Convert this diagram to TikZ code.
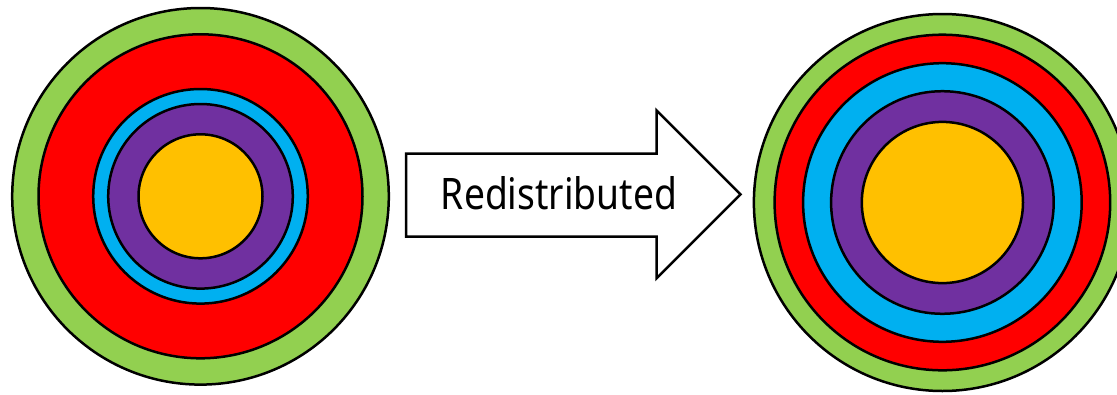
\documentclass[tikz,border=0pt]{standalone}
\usepackage{fontspec}
\setmainfont{Noto Sans}
\definecolor{ringgreen}{HTML}{92D050}
\definecolor{ringred}{HTML}{FF0000}
\definecolor{ringblue}{HTML}{00B0F0}
\definecolor{ringpurple}{HTML}{7030A0}
\definecolor{ringyellow}{HTML}{FFC000}
\tikzset{
  ring/.style={circle, draw=black, line width=2.5pt, inner sep=0pt, outer sep=0pt, minimum size=#1},
  bigarrow/.style={draw=black, fill=white, line width=2.5pt, line join=miter}
}
\begin{document}
\begin{tikzpicture}[x=1pt,y=-1pt]
\useasboundingbox (0,0) rectangle (1117,394);
% left set of rings
\node[ring=376.6pt, fill=ringgreen] (Lg) at (200.5,196.3) {};
\node[ring=324pt, fill=ringred] (Lr) at (200.5,196.3) {};
\node[ring=214.6pt, fill=ringblue] (Lb) at (200.5,196.3) {};
\node[ring=184.6pt, fill=ringpurple] (Lp) at (200.5,196.3) {};
\node[ring=124pt, fill=ringyellow] (Ly) at (200.5,196.3) {};
% right set of rings
\node[ring=377pt, fill=ringgreen] (Rg) at (942.4,202.5) {};
\node[ring=335.6pt, fill=ringred] (Rr) at (942.4,202.5) {};
\node[ring=278.6pt, fill=ringblue] (Rb) at (942.4,202.5) {};
\node[ring=222.6pt, fill=ringpurple] (Rp) at (942.4,202.5) {};
\node[ring=161.2pt, fill=ringyellow] (Ry) at (942.4,202.5) {};
% arrow
\draw[bigarrow] (406.2,153.5) -- (656.6,153.5) -- (656.6,110.5) -- (740.5,194.4)
  -- (656.6,278.3) -- (656.6,236.5) -- (406.2,236.5) -- cycle;
\node[inner sep=0pt, anchor=base west] (label) at (440.7,209.3) {\resizebox{236pt}{33pt}{Redistributed}};
\end{tikzpicture}
\end{document}
